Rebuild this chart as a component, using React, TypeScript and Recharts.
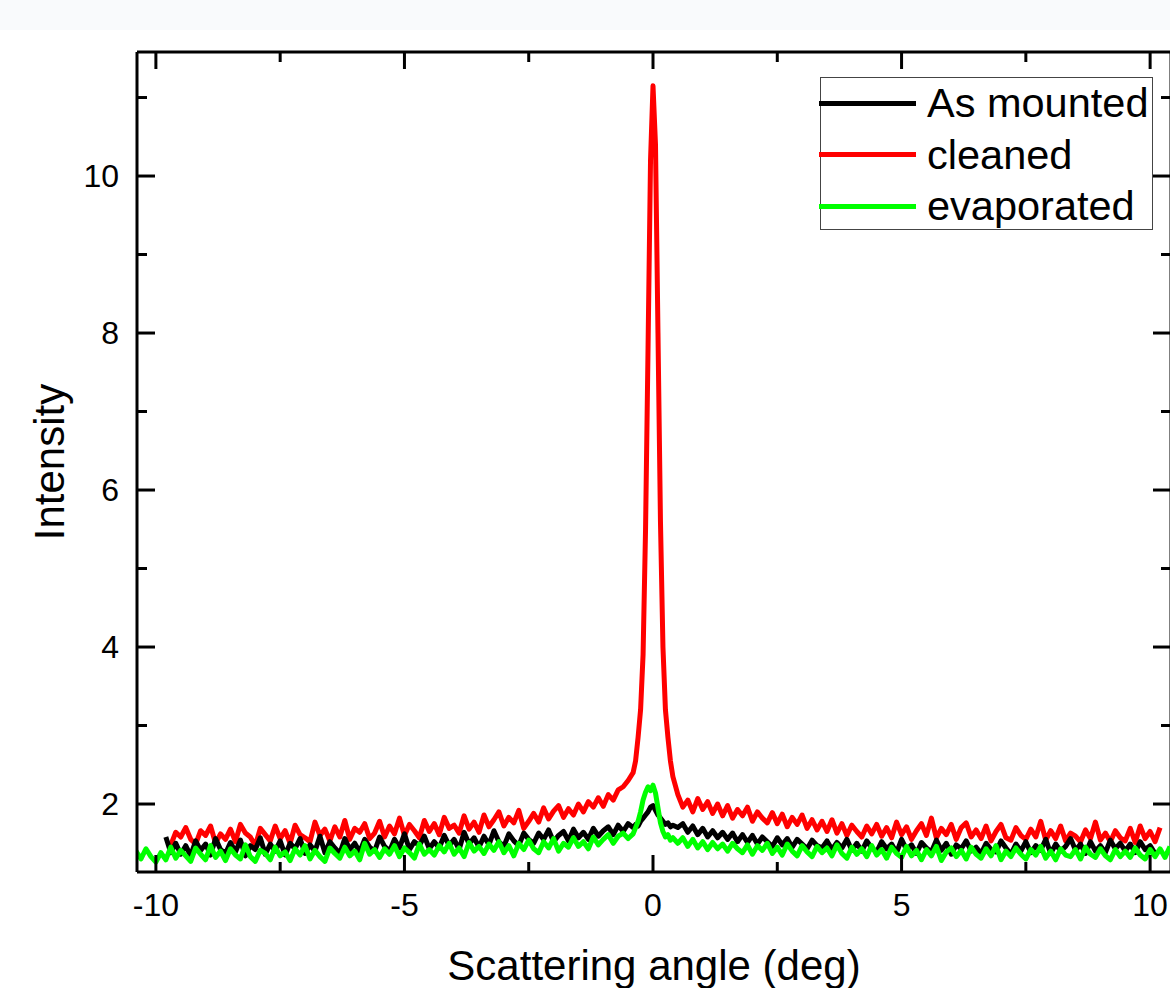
import React from 'react';
import { LineChart, Line, XAxis, YAxis, ReferenceLine, Legend } from 'recharts';

const angles = [
  -10.4, -10.3, -10.2, -10.1, -10.0, -9.9, -9.8, -9.7, -9.6, -9.5,
  -9.4, -9.3, -9.2, -9.1, -9.0, -8.9, -8.8, -8.7, -8.6, -8.5,
  -8.4, -8.3, -8.2, -8.1, -8.0, -7.9, -7.8, -7.7, -7.6, -7.5,
  -7.4, -7.3, -7.2, -7.1, -7.0, -6.9, -6.8, -6.7, -6.6, -6.5,
  -6.4, -6.3, -6.2, -6.1, -6.0, -5.9, -5.8, -5.7, -5.6, -5.5,
  -5.4, -5.3, -5.2, -5.1, -5.0, -4.9, -4.8, -4.7, -4.6, -4.5,
  -4.4, -4.3, -4.2, -4.1, -4.0, -3.9, -3.8, -3.7, -3.6, -3.5,
  -3.4, -3.3, -3.2, -3.1, -3.0, -2.9, -2.8, -2.7, -2.6, -2.5,
  -2.4, -2.3, -2.2, -2.1, -2.0, -1.9, -1.8, -1.7, -1.6, -1.5,
  -1.4, -1.3, -1.2, -1.1, -1.0, -0.9, -0.8, -0.7, -0.6, -0.5,
  -0.4, -0.35, -0.3, -0.25, -0.2, -0.15, -0.1, -0.05, 0, 0.05, 0.1, 0.15, 0.2, 0.25, 0.3, 0.35, 0.4,
  0.5, 0.6, 0.7, 0.8, 0.9, 1.0, 1.1, 1.2, 1.3, 1.4,
  1.5, 1.6, 1.7, 1.8, 1.9, 2.0, 2.1, 2.2, 2.3, 2.4,
  2.5, 2.6, 2.7, 2.8, 2.9, 3.0, 3.1, 3.2, 3.3, 3.4,
  3.5, 3.6, 3.7, 3.8, 3.9, 4.0, 4.1, 4.2, 4.3, 4.4,
  4.5, 4.6, 4.7, 4.8, 4.9, 5.0, 5.1, 5.2, 5.3, 5.4,
  5.5, 5.6, 5.7, 5.8, 5.9, 6.0, 6.1, 6.2, 6.3, 6.4,
  6.5, 6.6, 6.7, 6.8, 6.9, 7.0, 7.1, 7.2, 7.3, 7.4,
  7.5, 7.6, 7.7, 7.8, 7.9, 8.0, 8.1, 8.2, 8.3, 8.4,
  8.5, 8.6, 8.7, 8.8, 8.9, 9.0, 9.1, 9.2, 9.3, 9.4,
  9.5, 9.6, 9.7, 9.8, 9.9, 10.0, 10.1, 10.2, 10.3, 10.4,
];

const asMounted = [
  null, null, null, null, null, null, 1.58, 1.38, 1.50, 1.36,
  1.47, 1.34, 1.53, 1.41, 1.49, 1.35, 1.56, 1.42, 1.37, 1.51,
  1.39, 1.54, 1.34, 1.47, 1.42, 1.57, 1.36, 1.49, 1.40, 1.53,
  1.35, 1.50, 1.43, 1.56, 1.37, 1.48, 1.40, 1.59, 1.38, 1.52,
  1.44, 1.37, 1.56, 1.42, 1.50, 1.39, 1.55, 1.45, 1.40, 1.58,
  1.46, 1.40, 1.55, 1.44, 1.62, 1.42, 1.52, 1.47, 1.59, 1.43,
  1.52, 1.44, 1.60, 1.47, 1.55, 1.42, 1.64, 1.49, 1.57, 1.45,
  1.59, 1.48, 1.66, 1.52, 1.46, 1.62, 1.53, 1.47, 1.63, 1.55,
  1.50, 1.63, 1.55, 1.67, 1.52, 1.60, 1.65, 1.53, 1.68, 1.57,
  1.64, 1.55, 1.69, 1.59, 1.66, 1.71, 1.61, 1.73, 1.65, 1.75,
  1.70, 1.74, 1.72, 1.78, 1.82, 1.86, 1.90, 1.96, 1.98, 1.92, 1.86, 1.82, 1.78, 1.74, 1.76, 1.71, 1.73,
  1.70, 1.75, 1.64, 1.72, 1.61, 1.69, 1.58, 1.66, 1.57, 1.64,
  1.55, 1.63, 1.52, 1.61, 1.51, 1.60, 1.49, 1.58, 1.52, 1.46,
  1.57, 1.48, 1.56, 1.45, 1.55, 1.49, 1.43, 1.54, 1.47, 1.44,
  1.53, 1.42, 1.51, 1.44, 1.55, 1.41, 1.50, 1.40, 1.53, 1.44,
  1.39, 1.52, 1.43, 1.49, 1.38, 1.55, 1.42, 1.48, 1.37, 1.51,
  1.44, 1.39, 1.54, 1.41, 1.50, 1.36, 1.48, 1.43, 1.53, 1.40,
  1.45, 1.37, 1.50, 1.42, 1.39, 1.53, 1.44, 1.36, 1.49, 1.40,
  1.52, 1.38, 1.47, 1.41, 1.55, 1.37, 1.49, 1.40, 1.46, 1.56,
  1.41, 1.49, 1.37, 1.52, 1.40, 1.47, 1.38, 1.54, 1.43, 1.50,
  1.40, 1.49, 1.38, 1.52, 1.42, 1.47, 1.37, null, null, null,
];

const cleaned = [
  null, null, null, null, null, null, null, 1.48, 1.64, 1.58,
  1.70, 1.55, 1.49, 1.66, 1.60, 1.72, 1.50, 1.62, 1.55, 1.68,
  1.52, 1.74, 1.63, 1.58, 1.47, 1.69, 1.61, 1.53, 1.72, 1.56,
  1.66, 1.50, 1.73, 1.61, 1.57, 1.52, 1.77, 1.60, 1.68, 1.53,
  1.71, 1.58, 1.79, 1.55, 1.69, 1.64, 1.75, 1.56, 1.63, 1.78,
  1.58, 1.72, 1.62, 1.82, 1.60, 1.74, 1.66, 1.57, 1.79, 1.65,
  1.75, 1.61, 1.83, 1.69, 1.73, 1.63, 1.85, 1.68, 1.77, 1.64,
  1.86, 1.71, 1.80, 1.90, 1.72, 1.83, 1.76, 1.92, 1.69, 1.78,
  1.88, 1.77, 1.95, 1.81, 1.91, 1.98, 1.83, 1.94, 1.86, 2.00,
  1.90, 2.03, 1.96, 2.08, 1.97, 2.12, 2.05, 2.18, 2.22, 2.30,
  2.40, 2.55, 2.85, 3.20, 3.90, 5.50, 7.80, 10.20, 11.15, 10.40, 8.00, 5.60, 4.00, 3.20, 2.85, 2.55, 2.35,
  2.12, 1.96, 2.05, 1.90, 2.07, 1.93, 2.03, 1.88, 2.00, 1.85,
  1.98, 1.82, 1.93, 1.85, 1.96, 1.78, 1.90, 1.82, 1.76, 1.89,
  1.75, 1.87, 1.71, 1.83, 1.74, 1.86, 1.69, 1.80, 1.67, 1.78,
  1.65, 1.80, 1.63, 1.75, 1.60, 1.73, 1.65, 1.58, 1.72, 1.62,
  1.74, 1.59, 1.70, 1.57, 1.77, 1.61, 1.71, 1.55, 1.66, 1.75,
  1.60, 1.82, 1.57, 1.69, 1.61, 1.74, 1.55, 1.70, 1.76, 1.58,
  1.67, 1.56, 1.72, 1.53, 1.65, 1.74, 1.57, 1.54, 1.70, 1.60,
  1.55, 1.68, 1.58, 1.78, 1.54, 1.66, 1.56, 1.72, 1.53, 1.63,
  1.59, 1.52, 1.67, 1.56, 1.77, 1.54, 1.63, 1.52, 1.66, 1.57,
  1.53, 1.69, 1.51, 1.72, 1.56, 1.65, 1.52, 1.70, null, null,
];

const evaporated = [
  1.40, 1.30, 1.43, 1.33, 1.26, 1.38, 1.29, 1.45, 1.31, 1.41,
  1.34, 1.27, 1.44, 1.36, 1.29, 1.47, 1.32, 1.40, 1.28, 1.43,
  1.35, 1.30, 1.48, 1.33, 1.27, 1.41, 1.37, 1.29, 1.45, 1.34,
  1.39, 1.28, 1.43, 1.35, 1.47, 1.30, 1.41, 1.33, 1.27, 1.44,
  1.37, 1.31, 1.45, 1.34, 1.40, 1.29, 1.50, 1.36, 1.42, 1.32,
  1.43, 1.36, 1.47, 1.33, 1.44, 1.38, 1.31, 1.49, 1.36, 1.42,
  1.35, 1.47, 1.39, 1.50, 1.36, 1.44, 1.33, 1.51, 1.40, 1.46,
  1.37, 1.49, 1.41, 1.52, 1.38, 1.47, 1.34, 1.50, 1.42, 1.54,
  1.43, 1.38, 1.52, 1.44, 1.56, 1.40, 1.50, 1.45, 1.57, 1.46,
  1.52, 1.43, 1.58, 1.48, 1.55, 1.61, 1.50, 1.59, 1.63, 1.56,
  1.62, 1.70, 1.78, 1.90, 2.05, 2.15, 2.22, 2.17, 2.24, 2.14, 1.95, 1.76, 1.65, 1.58, 1.61, 1.54, 1.57,
  1.50, 1.57, 1.46, 1.55, 1.44, 1.52, 1.42, 1.51, 1.43, 1.49,
  1.40, 1.50, 1.43, 1.38, 1.48, 1.36, 1.47, 1.41, 1.50, 1.37,
  1.45, 1.35, 1.49, 1.40, 1.34, 1.47, 1.39, 1.33, 1.46, 1.38,
  1.44, 1.34, 1.48, 1.37, 1.31, 1.45, 1.36, 1.43, 1.33, 1.47,
  1.35, 1.42, 1.31, 1.45, 1.37, 1.32, 1.46, 1.34, 1.41, 1.29,
  1.42, 1.34, 1.46, 1.28, 1.39, 1.44, 1.33, 1.41, 1.30, 1.45,
  1.36, 1.31, 1.43, 1.34, 1.47, 1.29, 1.40, 1.33, 1.44, 1.36,
  1.30, 1.42, 1.35, 1.46, 1.31, 1.40, 1.29, 1.43, 1.35, 1.33,
  1.42, 1.30, 1.45, 1.36, 1.32, 1.43, 1.34, 1.29, 1.42, 1.33,
  1.40, 1.32, 1.44, 1.35, 1.30, 1.42, 1.33, 1.43, 1.32, 1.46,
];

const xTicks = [-10, -7.5, -5, -2.5, 0, 2.5, 5, 7.5, 10];
const xMajor = [-10, -5, 0, 5, 10];
const yTicks = [2, 3, 4, 5, 6, 7, 8, 9, 10, 11];
const yMajor = [2, 4, 6, 8, 10];
const seriesNames = ['As mounted', 'cleaned', 'evaporated'];
const seriesColors = ['#000000', '#ff0000', '#00ff00'];

const X_MIN = -10.38;
const X_MAX = 10.42;
const Y_MIN = 1.134;
const Y_MAX = 11.58;

const PLOT_LEFT = 137;
const PLOT_TOP = 52;
const PLOT_RIGHT = 1171;
const PLOT_BOTTOM = 872;
const FONT = "'Liberation Sans', Arial, sans-serif";

const data = angles.map((a, i) => ({
  angle: a,
  asMounted: asMounted[i],
  cleaned: cleaned[i],
  evaporated: evaporated[i],
}));

const XTick = (props: any) => {
  const { x, payload } = props;
  const major = xMajor.includes(payload.value);
  const len = major ? 17 : 10;
  return (
    <g>
      <line x1={x} x2={x} y1={PLOT_BOTTOM} y2={PLOT_BOTTOM - len} stroke="#000" strokeWidth={3} />
      <line x1={x} x2={x} y1={PLOT_TOP} y2={PLOT_TOP + len} stroke="#000" strokeWidth={3} />
      {major && (
        <text x={x} y={916} textAnchor="middle" fontSize={32} fill="#000" fontFamily={FONT}>
          {String(payload.value)}
        </text>
      )}
    </g>
  );
};

const YTick = (props: any) => {
  const { y, payload } = props;
  const major = yMajor.includes(payload.value);
  const len = major ? 18 : 10;
  return (
    <g>
      <line x1={PLOT_LEFT} x2={PLOT_LEFT + len} y1={y} y2={y} stroke="#000" strokeWidth={3} />
      <line x1={PLOT_RIGHT} x2={PLOT_RIGHT - len} y1={y} y2={y} stroke="#000" strokeWidth={3} />
      {major && (
        <text x={119} y={y + 11} textAnchor="end" fontSize={32} fill="#000" fontFamily={FONT}>
          {String(payload.value)}
        </text>
      )}
    </g>
  );
};

const LegendBox = () => (
  <div
    style={{
      position: 'relative',
      width: 333,
      height: 153,
      border: '1.5px solid #444',
      boxSizing: 'border-box',
      background: '#fff',
    }}
  >
    {seriesNames.map((n, i) => (
      <div
        key={n}
        style={{
          position: 'absolute',
          left: -2,
          top: i * 51.5,
          height: 50,
          display: 'flex',
          alignItems: 'center',
        }}
      >
        <div style={{ width: 97, height: 5, background: seriesColors[i] }} />
        <span
          style={{
            marginLeft: 11,
            fontSize: 41.5,
            lineHeight: '50px',
            fontFamily: FONT,
            color: '#000',
            whiteSpace: 'nowrap',
          }}
        >
          {n}
        </span>
      </div>
    ))}
  </div>
);

export default function App() {
  return (
    <div
      style={{
        position: 'absolute',
        left: 0,
        top: 0,
        width: 1170,
        height: 988,
        overflow: 'hidden',
        background: '#fff',
      }}
    >
      <div style={{ position: 'absolute', left: 0, top: 0, width: 1170, height: 30, background: '#f9fafc' }} />
      <div style={{ position: 'absolute', left: 0, top: 0 }}>
        <LineChart
          width={1172}
          height={988}
          data={data}
          margin={{ top: PLOT_TOP, right: 1172 - PLOT_RIGHT, bottom: 0, left: 0 }}
        >
          <XAxis
            dataKey="angle"
            type="number"
            domain={[X_MIN, X_MAX]}
            allowDataOverflow
            ticks={xTicks}
            interval={0}
            height={988 - PLOT_BOTTOM}
            tickLine={false}
            axisLine={{ stroke: '#000', strokeWidth: 3 }}
            tick={XTick}
            label={() => (
              <text x={654} y={980} textAnchor="middle" fontSize={42} fill="#000" fontFamily={FONT}>
                Scattering angle (deg)
              </text>
            )}
          />
          <YAxis
            type="number"
            domain={[Y_MIN, Y_MAX]}
            allowDataOverflow
            ticks={yTicks}
            interval={0}
            width={PLOT_LEFT}
            tickLine={false}
            axisLine={{ stroke: '#000', strokeWidth: 3 }}
            tick={YTick}
            label={() => (
              <text
                x={64}
                y={462}
                transform="rotate(-90 64 462)"
                textAnchor="middle"
                fontSize={42}
                fill="#000"
                fontFamily={FONT}
              >
                Intensity
              </text>
            )}
          />
          <ReferenceLine y={Y_MAX} stroke="#000" strokeWidth={3} ifOverflow="extendDomain" />
          <ReferenceLine x={X_MAX} stroke="#000" strokeWidth={3} ifOverflow="extendDomain" />
          <Line
            type="linear"
            dataKey="cleaned"
            stroke="#ff0000"
            strokeWidth={5}
            dot={false}
            isAnimationActive={false}
            strokeLinejoin="round"
          />
          <Line
            type="linear"
            dataKey="asMounted"
            stroke="#000000"
            strokeWidth={5}
            dot={false}
            isAnimationActive={false}
            strokeLinejoin="round"
          />
          <Line
            type="linear"
            dataKey="evaporated"
            stroke="#00ff00"
            strokeWidth={5}
            dot={false}
            isAnimationActive={false}
            strokeLinejoin="round"
          />
          <Legend
            layout="vertical"
            align="center"
            verticalAlign="middle"
            content={LegendBox}
            wrapperStyle={{ position: 'absolute', left: 820, top: 77, width: 333, height: 153 }}
          />
        </LineChart>
      </div>
    </div>
  );
}
